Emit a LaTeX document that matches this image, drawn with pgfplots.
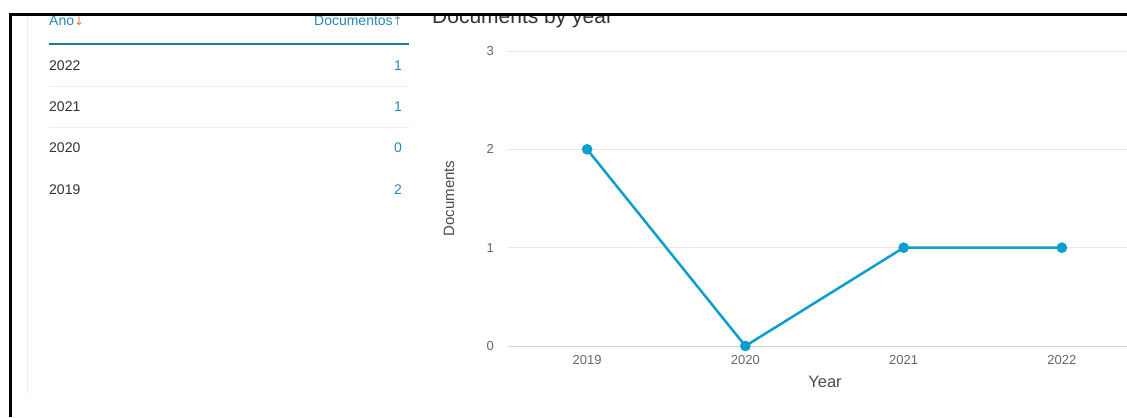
\documentclass[border=0pt]{standalone}
\usepackage{pgfplots}
\pgfplotsset{compat=1.18}
\usepackage{fontspec}
\setmainfont{Liberation Sans}
\newfontfamily\arrowfont{DejaVu Sans}
\definecolor{linec}{RGB}{12,158,204}
\definecolor{tealtxt}{RGB}{40,136,182}
\definecolor{tealline}{RGB}{30,122,152}
\definecolor{arroworange}{RGB}{240,120,64}
\definecolor{arrowgray}{RGB}{110,150,175}
\definecolor{yeartxt}{RGB}{50,50,50}
\definecolor{sepgray}{RGB}{236,236,236}
\definecolor{gridgray}{RGB}{230,230,230}
\definecolor{axisblue}{RGB}{204,214,235}
\definecolor{ticktxt}{RGB}{102,102,102}
\definecolor{titletxt}{RGB}{51,51,51}
\definecolor{axtitle}{RGB}{77,77,77}
\begin{document}
\begin{tikzpicture}[x=1bp,y=-1bp]
\useasboundingbox (0,0) rectangle (1127,417);
\fill[white] (0,0) rectangle (1127,417);
\coordinate (plotorigin) at (508,346);
\begin{scope}
\clip (0,15.5) rectangle (1127,417);
% faint panel edge
\draw[color=sepgray, line width=1bp] (27,15) -- (27,393);
% table header
\node[anchor=base west, inner sep=0pt, font=\fontsize{14bp}{16bp}\selectfont, text=tealtxt] at (49,25) {Ano\textcolor{arroworange}{\arrowfont\fontsize{12bp}{14bp}\selectfont ↓}};
\node[anchor=base east, inner sep=0pt, font=\fontsize{14bp}{16bp}\selectfont, text=tealtxt] at (403,25) {Documentos\textcolor{arrowgray}{\arrowfont\fontsize{12bp}{14bp}\selectfont ↑}};
\draw[color=tealline, line width=2bp] (49,43.5) -- (409,43.5);
% rows
\foreach \yr/\val/\yy in {2022/1/70, 2021/1/111.3, 2020/0/152.6, 2019/2/194} {
  \node[anchor=base west, inner sep=0pt, font=\fontsize{14bp}{16bp}\selectfont, text=yeartxt] at (49,\yy) {\yr};
  \node[anchor=base east, inner sep=0pt, font=\fontsize{14bp}{16bp}\selectfont, text=tealtxt] at (402,\yy) {\val};
}
\draw[color=sepgray, line width=1bp] (49,86.5) -- (409,86.5);
\draw[color=sepgray, line width=1bp] (49,127.5) -- (409,127.5);
% chart title
\node[anchor=base west, inner sep=0pt, font=\fontsize{21bp}{24bp}\selectfont, text=titletxt] at (432,23.5) {Documents by year};
% axis titles
\node[anchor=base, inner sep=0pt, font=\fontsize{16.5bp}{19bp}\selectfont, text=axtitle] at (825,387) {Year};
\node[anchor=base, rotate=90, inner sep=0pt, font=\fontsize{15bp}{18bp}\selectfont, text=axtitle] at (454,198.5) {Documents};
\begin{axis}[
  at={(plotorigin)}, anchor=south west,
  scale only axis, width=633bp, height=295bp,
  xmin=-0.5, xmax=3.5, ymin=0, ymax=3,
  axis line style={draw=none},
  major tick length=0pt,
  xtick={0,1,2,3}, xticklabels={2019,2020,2021,2022},
  ytick={0,1,2,3},
  /pgf/number format/assume math mode=true,
  ymajorgrids, major grid style={color=gridgray, line width=1bp},
  ticklabel style={font=\fontsize{13bp}{15bp}\selectfont, text=ticktxt, inner sep=0pt},
  yticklabel style={anchor=east, xshift=-14bp},
  xticklabel style={anchor=north, yshift=-9bp},
  clip=false,
]
\draw[color=axisblue, line width=1bp] (axis cs:-0.5,0) -- (axis cs:3.5,0);
\addplot[color=linec, line width=2.5bp, mark=*, mark size=4bp, mark options={fill=linec, draw=none}]
  coordinates {(0,2) (1,0) (2,1) (3,1)};
\end{axis}
\end{scope}
% screenshot border
\draw[black, line width=3bp] (8.5,14.6) -- (1127,14.6);
\draw[black, line width=3bp] (10,13.1) -- (10,417);
\end{tikzpicture}
\end{document}
